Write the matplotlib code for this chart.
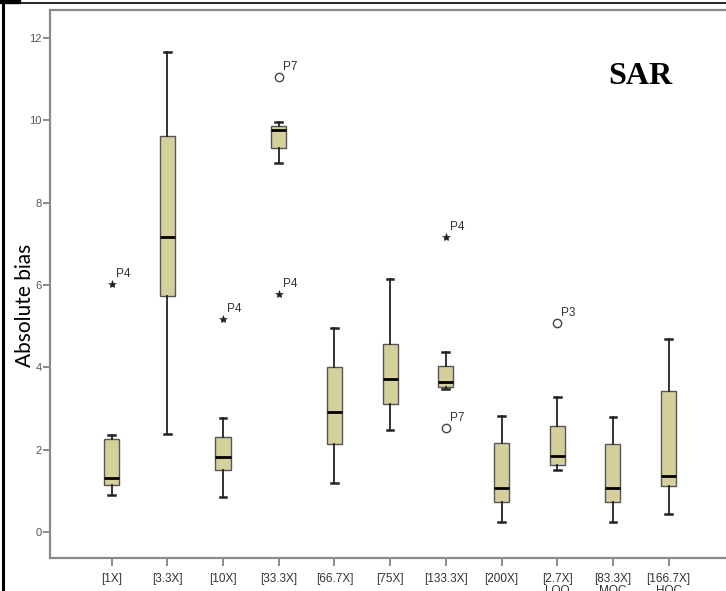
import matplotlib
matplotlib.use("Agg")
import matplotlib.pyplot as plt
from matplotlib.lines import Line2D
from matplotlib.patches import Rectangle

# Dilution levels (x categories)
categories = ["[1X]", "[3.3X]", "[10X]", "[33.3X]", "[66.7X]", "[75X]",
              "[133.3X]", "[200X]", "[2.7X]\nLOQ", "[83.3X]\nMQC", "[166.7X]\nHQC"]

# Box-plot summaries of absolute bias per level
whislo = [0.90, 2.38, 0.86, 8.97, 1.20, 2.48, 3.47, 0.25, 1.51, 0.24, 0.45]
q1     = [1.14, 5.73, 1.51, 9.33, 2.14, 3.11, 3.53, 0.74, 1.63, 0.74, 1.12]
med    = [1.31, 7.16, 1.82, 9.77, 2.92, 3.72, 3.65, 1.06, 1.84, 1.06, 1.36]
q3     = [2.26, 9.62, 2.32, 9.87, 4.01, 4.57, 4.04, 2.17, 2.57, 2.15, 3.43]
whishi = [2.36, 11.65, 2.77, 9.97, 4.96, 6.14, 4.37, 2.81, 3.27, 2.80, 4.70]

# Outliers: category index (1-based), value, kind ('o' outlier, '*' extreme), case label
out_pos    = [1, 3, 4, 4, 7, 7, 9]
out_val    = [6.02, 5.17, 11.06, 5.78, 7.16, 2.53, 5.08]
out_kind   = ["*", "*", "o", "*", "*", "o", "o"]
out_label  = ["P4", "P4", "P7", "P4", "P4", "P7", "P3"]

W, H = 726, 591
fig = plt.figure(figsize=(W / 100, H / 100), dpi=100)
ax = fig.add_axes([50 / W, 33 / H, 1 - 50 / W, (558 - 10) / H])

positions = list(range(1, len(categories) + 1))
stats = [dict(whislo=a, q1=b, med=c, q3=d, whishi=e, fliers=[])
         for a, b, c, d, e in zip(whislo, q1, med, q3, whishi)]

ax.bxp(stats, positions=positions, widths=0.27, patch_artist=True,
       showfliers=False, capwidths=0.12,
       boxprops=dict(facecolor="#d5cf9c", edgecolor="#555555", linewidth=1.0),
       medianprops=dict(color="black", linewidth=2.0, solid_capstyle="butt"),
       whiskerprops=dict(color="#222222", linewidth=1.3),
       capprops=dict(color="#222222", linewidth=1.8))

for p, v, k, lab in zip(out_pos, out_val, out_kind, out_label):
    if k == "o":
        ax.plot(p, v, marker="o", markersize=6, markerfacecolor="white",
                markeredgecolor="#444444", markeredgewidth=1.0, zorder=5)
    else:
        ax.plot(p, v, marker="*", markersize=6, color="#222222",
                markeredgewidth=0.4, zorder=5)
    ax.annotate(lab, (p, v), xytext=(4, 4), textcoords="offset pixels",
                ha="left", va="bottom", fontsize=8.5, color="#333333",
                family="Liberation Sans")

ax.set_xlim(-0.106, 12.03)
ax.set_ylim(-0.63, 12.68)
ax.set_yticks([0, 2, 4, 6, 8, 10, 12])
ax.set_xticks(positions)
ax.set_xticklabels(categories, fontsize=8.5, color="#333333",
                   family=["Liberation Sans Narrow", "Liberation Sans"],
                   linespacing=0.95)
for t in ax.get_yticklabels():
    t.set_fontsize(8)
    t.set_color("#555555")
    t.set_family("Liberation Sans")

ax.tick_params(axis="y", direction="out", length=5, width=1.2, color="#777777", pad=1)
ax.tick_params(axis="x", direction="out", length=6, width=1.2, color="#777777", pad=5)

for side in ("left", "bottom", "top"):
    ax.spines[side].set_color("#8a8a8a")
    ax.spines[side].set_linewidth(1.6)
ax.spines["right"].set_visible(False)

fig.text(25 / W, 1 - 305 / H, "Absolute bias", rotation=90, ha="center",
         va="center", fontsize=15, family="Lato", color="black")

fig.text(640 / W, 1 - 76 / H, "SAR", ha="center", va="center", fontsize=23,
         fontweight="bold", family="Liberation Serif", color="black")

# cell border lines
fig.add_artist(Line2D([3 / W, 3 / W], [0, 1], color="black", linewidth=2.2,
                      transform=fig.transFigure))
fig.add_artist(Line2D([0, 1], [1 - 3 / H, 1 - 3 / H], color="black",
                      linewidth=1.2, transform=fig.transFigure))
fig.add_artist(Rectangle((0, 1 - 3 / H), 20 / W, 3 / H, color="black",
                         transform=fig.transFigure))

fig.savefig("out.png", dpi=100)
